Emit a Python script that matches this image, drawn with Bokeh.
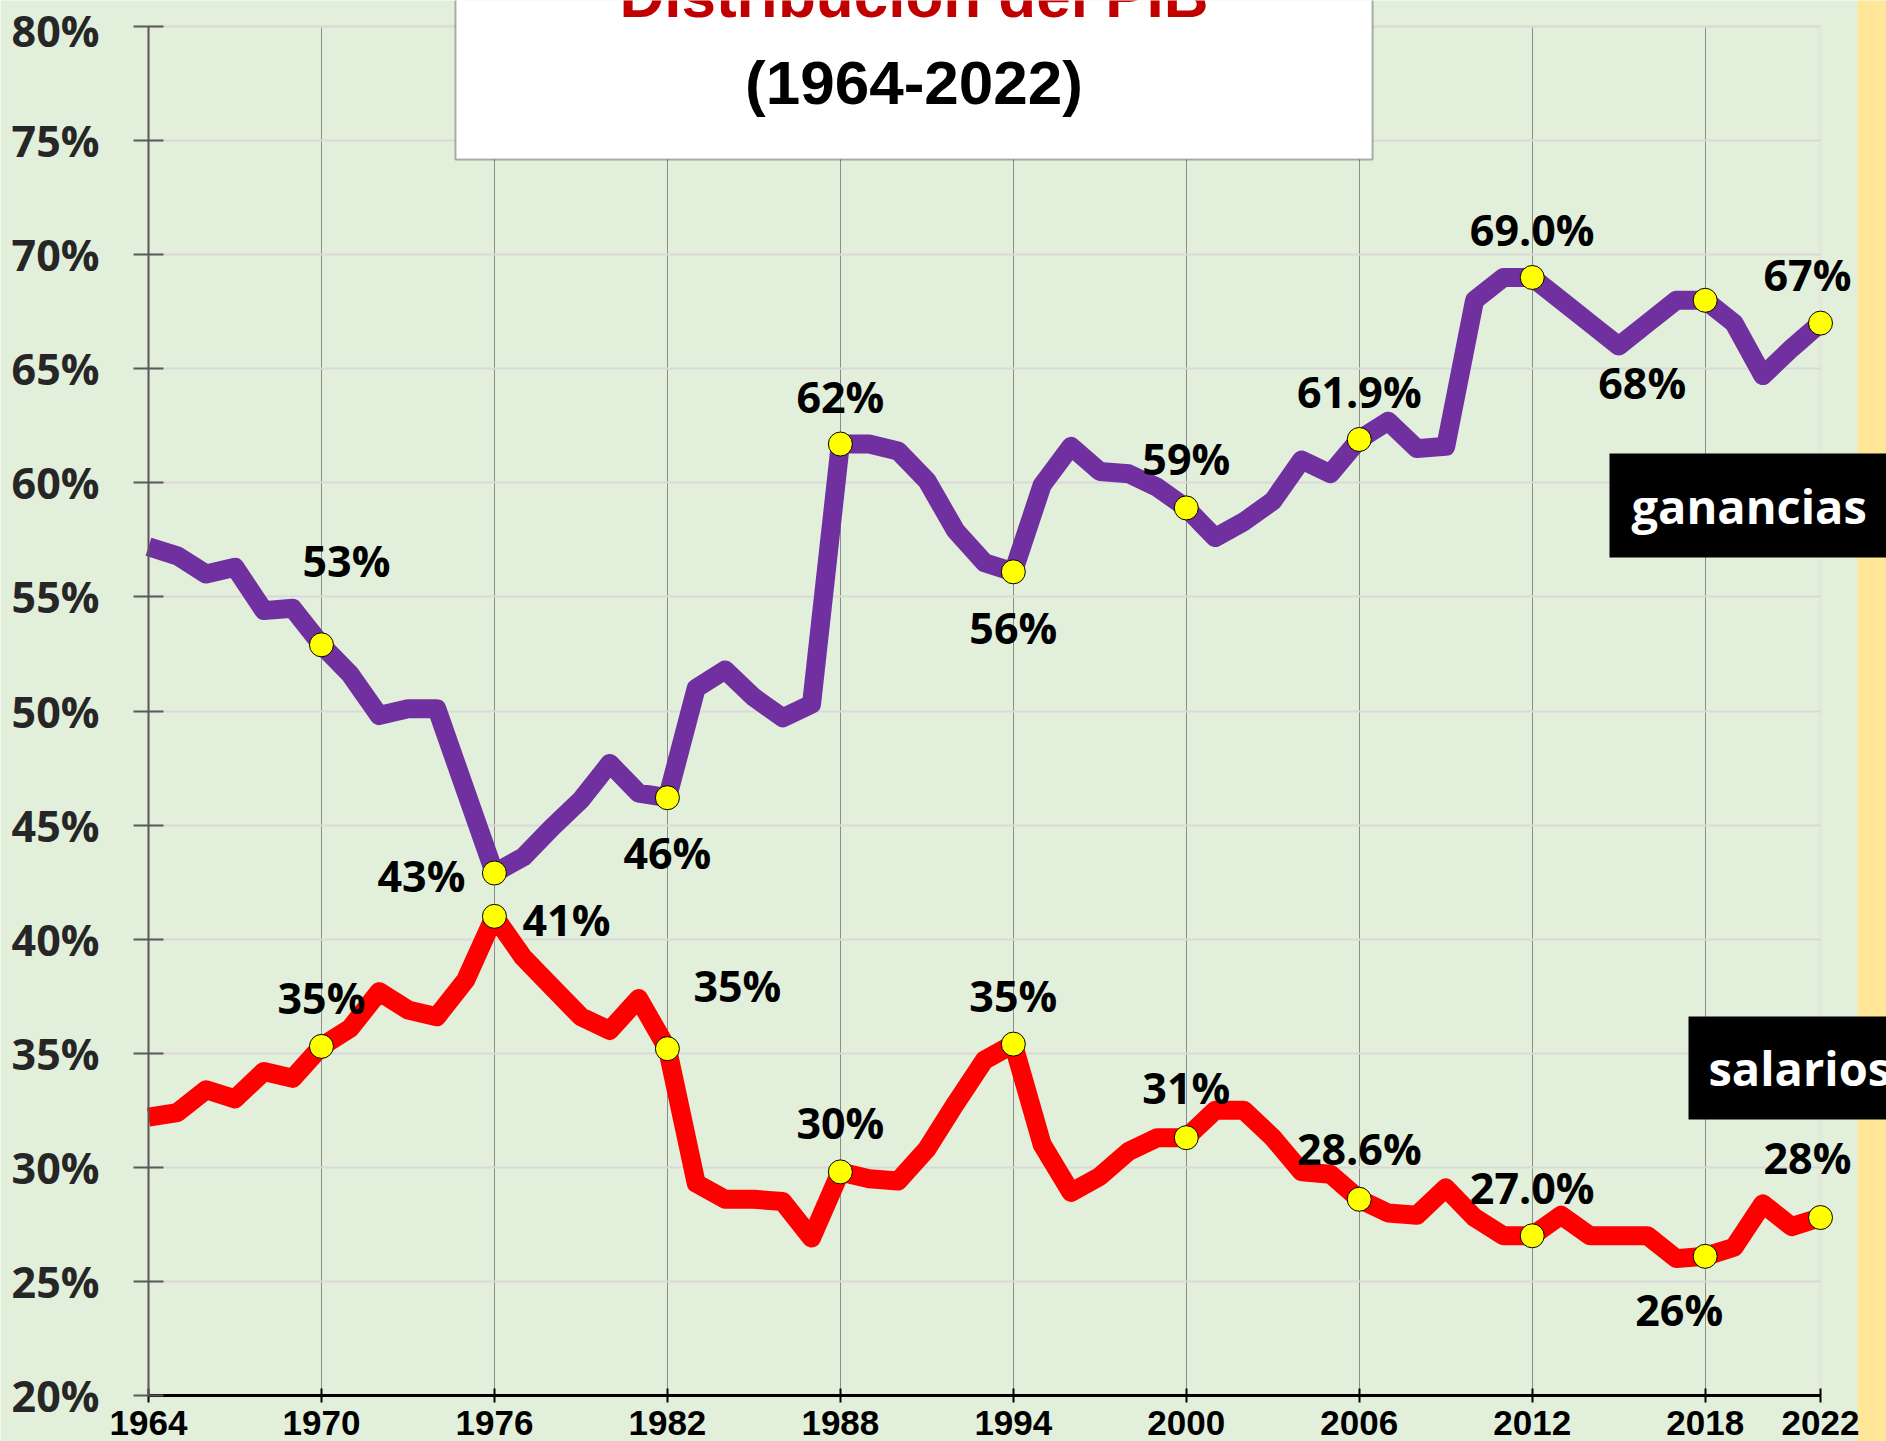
from bokeh.plotting import figure
from bokeh.models import ColumnDataSource, LabelSet, Label, BoxAnnotation, FixedTicker, Range1d
from bokeh.embed import file_html
from bokeh.resources import INLINE
from bokeh.core.properties import value

# ---------------- data ----------------
years = list(range(1964, 2023))
ganancias = [57.2, 56.8, 56.0, 56.3, 54.4, 54.5, 52.9, 51.6, 49.8, 50.1,
             50.1, 46.5, 42.9, 43.6, 44.9, 46.1, 47.7, 46.4, 46.2, 51.0,
             51.8, 50.6, 49.7, 50.3, 61.7, 61.7, 61.4, 60.1, 57.9, 56.5,
             56.1, 59.9, 61.6, 60.5, 60.4, 59.8, 58.9, 57.6, 58.3, 59.2,
             61.0, 60.4, 61.9, 62.7, 61.5, 61.6, 68.0, 69.0, 69.0, 68.0,
             67.0, 66.0, 67.0, 68.0, 68.0, 67.0, 64.7, 65.9, 67.0]
salarios = [32.2, 32.4, 33.4, 33.0, 34.2, 33.9, 35.3, 36.1, 37.7, 36.9,
            36.6, 38.2, 41.0, 39.2, 37.9, 36.6, 36.0, 37.4, 35.2, 29.3,
            28.6, 28.6, 28.5, 26.9, 29.8, 29.5, 29.4, 30.8, 32.8, 34.7,
            35.4, 31.0, 28.9, 29.6, 30.7, 31.3, 31.3, 32.5, 32.5, 31.3,
            29.8, 29.7, 28.6, 28.0, 27.9, 29.1, 27.8, 27.0, 27.0, 27.9,
            27.0, 27.0, 27.0, 26.0, 26.1, 26.5, 28.4, 27.4, 27.8]
mark_years = [1970, 1976, 1982, 1988, 1994, 2000, 2006, 2012, 2018, 2022]
gan_labels = ["53%", "43%", "46%", "62%", "56%", "59%", "61.9%", "69.0%", "68%", "67%"]
sal_labels = ["35%", "41%", "35%", "30%", "35%", "31%", "28.6%", "27.0%", "26%", "28%"]
x_tick_years = [1964, 1970, 1976, 1982, 1988, 1994, 2000, 2006, 2012, 2018, 2022]
x_tick_labels = [str(y) for y in x_tick_years]
y_ticks = [20, 25, 30, 35, 40, 45, 50, 55, 60, 65, 70, 75, 80]
y_tick_labels = [f"{t}%" for t in y_ticks]
title_line1 = "Distribución del PIB"
title_line2 = "(1964-2022)"
series_names = ["ganancias", "salarios"]

# ---------------- label offsets (px, + = right / up) ----------------
gan_dx = [25, -73, 0, 0, 0, 0, 0, 0, -63, -13]
gan_dy = [84, -3, -55, 48, -56, 49, 48, 48, -82, 49]
sal_dx = [0, 72, 70, 0, 0, 0, 0, 0, -26, -13]
sal_dy = [49, -3, 63, 49, 49, 50, 51, 48, -53, 60]

# ---------------- geometry helpers (page px -> data) ----------------
X0, X1 = 1964, 2022
Y0, Y1 = 20, 80
PX0, PXS = 148.0, 1672.0 / 58.0      # page x of 1964, px per year
PY0, PYS = 26.0, 1369.0 / 60.0       # page y of 80 %, px per percent
def xd(px):
    return X0 + (px - PX0) / PXS
def yd(py):
    return Y1 - (py - PY0) / PYS

W, H = 1886, 1441
GREEN = "#E2EFDA"
PURPLE = "#7030A0"
RED = "#FF0000"
SANS = "Open Sans"
TITLE_FONT = "Liberation Sans"

p = figure(width=W, height=H,
           x_range=Range1d(xd(0), xd(W)), y_range=Range1d(yd(H), yd(0)),
           output_backend="svg", toolbar_location=None,
           min_border=0, min_border_left=0, min_border_right=0,
           min_border_top=0, min_border_bottom=0)
p.background_fill_color = GREEN
p.border_fill_color = GREEN
p.outline_line_color = None

# grids limited to the plot area
p.ygrid.ticker = FixedTicker(ticks=y_ticks)
p.ygrid.grid_line_color = "#D9D9D9"
p.ygrid.grid_line_width = 2
p.xgrid.ticker = FixedTicker(ticks=mark_years[:-1])
p.xgrid.grid_line_color = "#8C8C8C"
p.xgrid.grid_line_width = 1
if "cross_bounds" in p.ygrid.properties():
    p.ygrid.cross_bounds = (X0, X1)
    p.xgrid.cross_bounds = (Y0, Y1)
else:
    for kw in (dict(right=X0), dict(left=X1), dict(bottom=Y1), dict(top=Y0)):
        p.add_layout(BoxAnnotation(fill_color=GREEN, fill_alpha=1, line_alpha=0, level="underlay", **kw))

# plot-area border (light grey)
p.add_layout(BoxAnnotation(left=X0, right=X1, bottom=Y0, top=Y1, fill_alpha=0,
                           line_color="#D9D9D9", line_width=4, level="underlay"))
# right yellow band
p.add_layout(BoxAnnotation(left=xd(1857), fill_color="#FFE699", fill_alpha=1, line_alpha=0,
                           level="underlay"))

# y axis at 1964
p.yaxis.fixed_location = X0
p.yaxis.bounds = (Y0, Y1)
p.yaxis.ticker = FixedTicker(ticks=y_ticks)
p.yaxis.major_label_overrides = dict(zip(y_ticks, y_tick_labels))
p.yaxis.major_label_text_font = SANS
p.yaxis.major_label_text_font_style = "bold"
p.yaxis.major_label_text_font_size = "43px"
p.yaxis.major_label_text_color = "#262626"
p.yaxis.major_label_standoff = 34
p.yaxis.axis_line_color = "#595959"
p.yaxis.axis_line_width = 2
p.yaxis.major_tick_in = 15
p.yaxis.major_tick_out = 15
p.yaxis.major_tick_line_color = "#595959"
p.yaxis.major_tick_line_width = 2
p.yaxis.minor_tick_line_color = None

# x axis at 20 %
p.xaxis.fixed_location = Y0
p.xaxis.bounds = (X0, X1)
p.xaxis.ticker = FixedTicker(ticks=x_tick_years)
p.xaxis.major_label_overrides = dict(zip(x_tick_years, x_tick_labels))
p.xaxis.major_label_text_font = TITLE_FONT
p.xaxis.major_label_text_font_style = "bold"
p.xaxis.major_label_text_font_size = "35px"
p.xaxis.major_label_text_color = "black"
p.xaxis.major_label_standoff = 8
p.xaxis.axis_line_color = "black"
p.xaxis.axis_line_width = 3
p.xaxis.major_tick_in = 7
p.xaxis.major_tick_out = 7
p.xaxis.major_tick_line_color = "black"
p.xaxis.major_tick_line_width = 2
p.xaxis.minor_tick_line_color = None

# series lines
p.line(years, ganancias, line_color=PURPLE, line_width=19, line_join="round")
p.line(years, salarios, line_color=RED, line_width=19, line_join="round")

gan_marks = [ganancias[years.index(y)] for y in mark_years]
sal_marks = [salarios[years.index(y)] for y in mark_years]
p.scatter(mark_years, gan_marks, size=24, fill_color="#FFFF00", line_color="black", line_width=1)
p.scatter(mark_years, sal_marks, size=24, fill_color="#FFFF00", line_color="black", line_width=1)

for ys, labs, dxs, dys in ((gan_marks, gan_labels, gan_dx, gan_dy), (sal_marks, sal_labels, sal_dx, sal_dy)):
    src = ColumnDataSource(dict(x=mark_years, y=ys, text=labs, dx=dxs, dy=dys))
    p.add_layout(LabelSet(x="x", y="y", text="text", x_offset="dx", y_offset="dy", source=src,
                          text_font=value(SANS), text_font_style="bold", text_font_size="43px",
                          text_color="black", text_align="center", text_baseline="middle"))

# title box
p.add_layout(BoxAnnotation(left=xd(455), right=xd(1372), bottom=yd(159), top=yd(-20),
                           fill_color="white", fill_alpha=1, line_color="black", line_width=2,
                           level="annotation"))
p.add_layout(Label(x=xd(913.5), y=yd(-5), text=title_line1, text_font=TITLE_FONT, text_font_style="bold",
                   text_font_size="62px", text_color="#C00000", text_align="center",
                   text_baseline="alphabetic"))
p.add_layout(Label(x=xd(913.5), y=yd(82), text=title_line2, text_font=TITLE_FONT, text_font_style="bold",
                   text_font_size="62px", text_color="black", text_align="center",
                   text_baseline="alphabetic"))

# series name boxes
p.add_layout(BoxAnnotation(left=xd(1609), bottom=yd(557), top=yd(453),
                           fill_color="black", fill_alpha=1, line_alpha=0, level="annotation"))
p.add_layout(Label(x=xd(1631), y=yd(505), text=series_names[0], text_font=SANS, text_font_style="bold",
                   text_font_size="47px", text_color="white", text_align="left", text_baseline="middle"))
p.add_layout(BoxAnnotation(left=xd(1688), bottom=yd(1119), top=yd(1016),
                           fill_color="black", fill_alpha=1, line_alpha=0, level="annotation"))
p.add_layout(Label(x=xd(1708), y=yd(1067), text=series_names[1], text_font=SANS, text_font_style="bold",
                   text_font_size="47px", text_color="white", text_align="left", text_baseline="middle"))

open("out.html", "w").write(file_html(p, INLINE))
